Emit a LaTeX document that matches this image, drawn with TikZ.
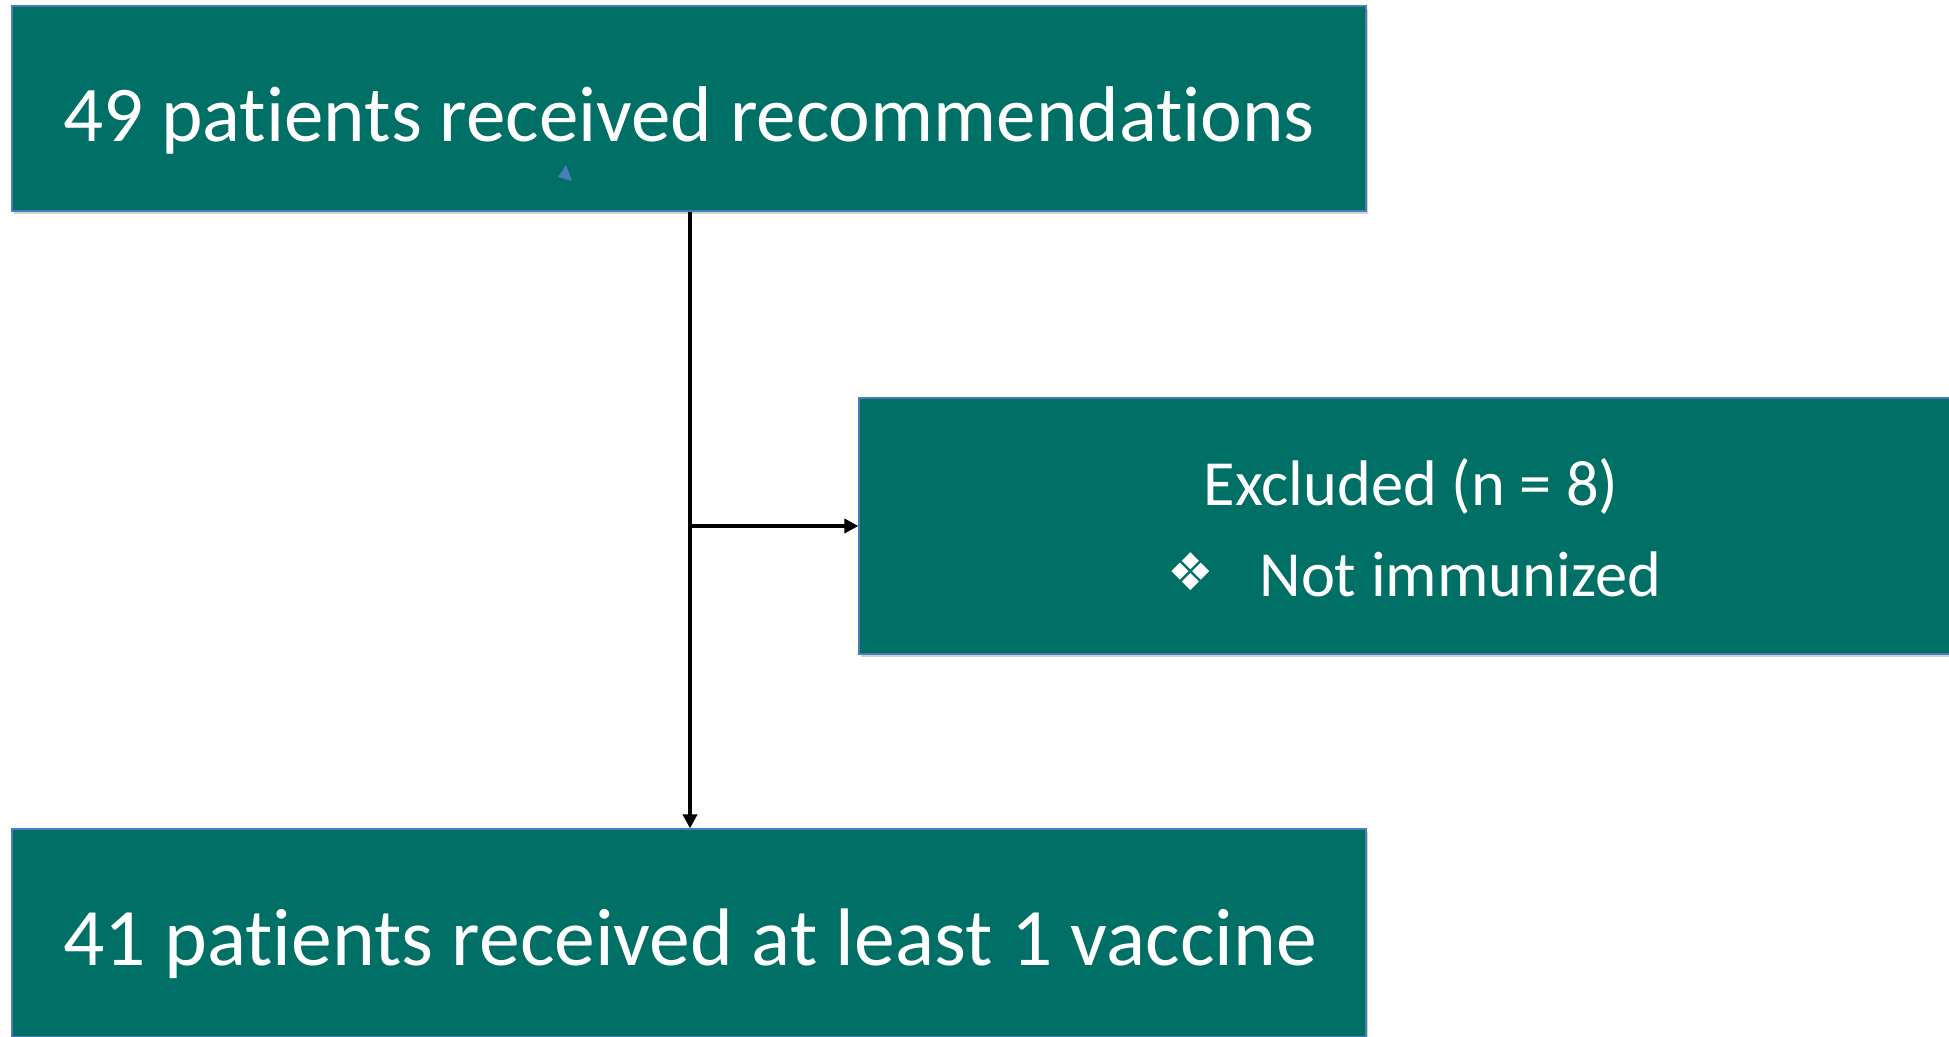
\documentclass[tikz,border=0pt]{standalone}
\usepackage{fontspec}
\setmainfont[RawFeature={-liga;-dlig}]{Carlito}
\newfontfamily\dejavu{DejaVu Sans}
\usetikzlibrary{shadows,arrows.meta}
\definecolor{teal}{HTML}{006F65}
\definecolor{edge}{HTML}{4A7EBB}
\begin{document}
\begin{tikzpicture}[x=0.5pt,y=-0.5pt,
  box/.style={rectangle, fill=teal, draw=edge, line width=0.6pt, inner sep=0pt,
    drop shadow={opacity=0.35, shadow xshift=1pt, shadow yshift=-1.5pt}},
  txt/.style={text=white, inner sep=0pt},
  conn/.style={line width=1.9pt, -{Triangle[length=7pt,width=7pt]}}]
\useasboundingbox (0,0) rectangle (1949,1037);
\node[box, minimum width=677pt, minimum height=102.5pt] (top) at (689,108.5) {};
\node[box, minimum width=546pt, minimum height=128pt] (right) at (1405,526) {};
\node[box, minimum width=677pt, minimum height=104pt] (bot) at (689,933) {};
\node[txt, font=\fontsize{39.5}{48}\selectfont] (toptext) at (689,120) {49 patients received recommendations};
\node[txt, font=\fontsize{40.8}{48}\selectfont] (bottext) at (690,944) {41 patients received at least 1 vaccine};
\node[txt, font=\fontsize{32.2}{40}\selectfont] (excl) at (1411,486) {Excluded (n = 8)};
\node[txt, font=\fontsize{32.2}{40}\selectfont, anchor=west] (notimm) at (1259,574) {Not immunized};
\node[txt, font=\dejavu\fontsize{26}{30}\selectfont] (bullet) at (1191,572) {❖};
\fill[edge] (566,165) -- (558,177) -- (572,181) -- cycle;
\coordinate (split) at (690,526);
\draw[conn] (top.south -| split) -- (bot.north -| split);
\draw[conn] (split) -- (right.west);
\end{tikzpicture}
\end{document}
